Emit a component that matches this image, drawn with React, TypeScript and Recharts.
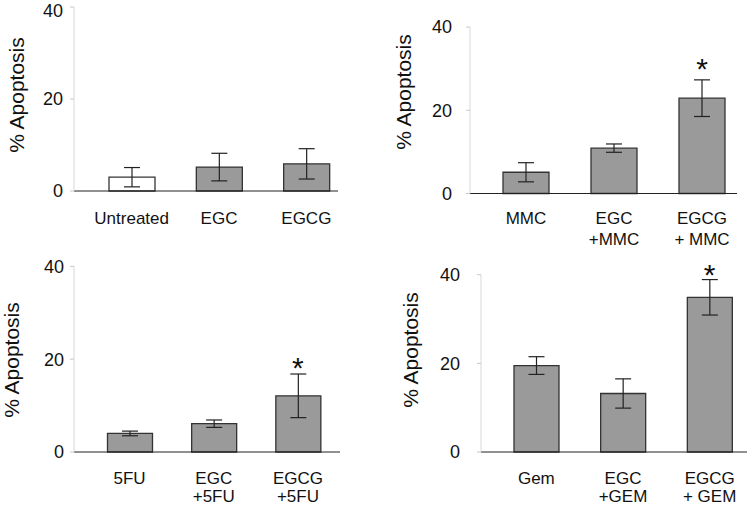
import React from "react";
import { ComposedChart, Bar, ErrorBar, Scatter, XAxis, YAxis, Cell } from "recharts";

// --- values ---
const p1Cats = ["Untreated", "EGC", "EGCG"];
const p1Means = [3.0, 5.2, 5.9];
const p1Errs = [2.1, 3.0, 3.3];
const p1Sig = [false, false, false];

const p2Cats = ["MMC", "EGC\n+MMC", "EGCG\n+ MMC"];
const p2Means = [5.1, 10.9, 22.9];
const p2Errs = [2.3, 1.0, 4.4];
const p2Sig = [false, false, true];

const p3Cats = ["5FU", "EGC\n+5FU", "EGCG\n+5FU"];
const p3Means = [4.0, 6.1, 12.1];
const p3Errs = [0.5, 0.8, 4.7];
const p3Sig = [false, false, true];

const p4Cats = ["Gem", "EGC\n+GEM", "EGCG\n+ GEM"];
const p4Means = [19.5, 13.2, 34.9];
const p4Errs = [2.0, 3.3, 4.0];
const p4Sig = [false, false, true];

const yTicks = [0, 20, 40];

const FONT = "'Liberation Sans', Arial, sans-serif";
const BAR_FILL = "#9a9a9a";
const BAR_STROKE = "#333333";

function build(cats: string[], means: number[], errs: number[], sig: boolean[]) {
  return cats.map((c, i) => ({
    cat: c,
    mean: means[i],
    err: errs[i],
    sigTop: sig[i] ? means[i] + errs[i] : null,
  }));
}

interface PanelProps {
  cats: string[];
  means: number[];
  errs: number[];
  sig: boolean[];
  left: number;
  top: number;
  axisX: number;
  plotTop: number;
  plotBottom: number;
  axisRight: number;
  padLeft: number;
  padRight: number;
  barSize: number;
  tickGap: number;
  labelX: number;
  labelY: number;
  catOffset: number;
  lineGap: number;
  starGap?: number;
  firstWhite?: boolean;
}

function Panel(p: PanelProps) {
  const W = 375;
  const H = 253;
  const data = build(p.cats, p.means, p.errs, p.sig);

  const CatTick = (props: any) => {
    const { x, y, payload } = props;
    const lines = String(payload.value).split("\n");
    return (
      <g>
        {lines.map((l, i) => (
          <text
            key={i}
            x={x}
            y={y + p.catOffset + i * p.lineGap}
            textAnchor="middle"
            fontSize={17}
            fontFamily={FONT}
            fill="#111"
          >
            {l}
          </text>
        ))}
      </g>
    );
  };

  const Star = (props: any) => {
    const { cx, cy, payload } = props;
    if (!payload || payload.sigTop == null || !isFinite(cy)) return <g />;
    return (
      <text
        x={cx}
        y={cy - (p.starGap ?? 14) + 17}
        textAnchor="middle"
        fontSize={30}
        fontFamily={FONT}
        fill="#111"
      >
        *
      </text>
    );
  };

  return (
    <div style={{ position: "absolute", left: p.left, top: p.top, width: W, height: H }}>
      <ComposedChart
        width={W}
        height={H}
        data={data}
        margin={{ top: p.plotTop, right: W - p.axisRight, bottom: 0, left: 0 }}
        style={{ overflow: "visible" }}
      >
        <XAxis
          dataKey="cat"
          type="category"
          height={H - p.plotBottom}
          padding={{ left: p.padLeft, right: p.padRight }}
          axisLine={{ stroke: "#222", strokeWidth: 1.2 }}
          tickLine={false}
          tickSize={0}
          tickMargin={0}
          tick={<CatTick />}
          interval={0}
        />
        <YAxis
          width={p.axisX}
          domain={[0, 40]}
          ticks={yTicks}
          axisLine={{ stroke: "#d8d8d8" }}
          tickLine={{ stroke: "#c8c8c8" }}
          tickSize={4}
          tickMargin={p.tickGap}
          tick={{ fontSize: 18, fontFamily: FONT, fill: "#111" }}
          label={{
            content: () => (
              <text
                x={p.labelX}
                y={p.labelY}
                transform={`rotate(-90 ${p.labelX} ${p.labelY})`}
                textAnchor="middle"
                dominantBaseline="central"
                fontSize={21}
                fontFamily={FONT}
                fill="#111"
              >
                % Apoptosis
              </text>
            ),
          }}
        />
        <Bar
          dataKey="mean"
          barSize={p.barSize}
          fill={BAR_FILL}
          stroke={BAR_STROKE}
          strokeWidth={1.3}
          isAnimationActive={false}
        >
          {data.map((_, i) => (
            <Cell key={i} fill={p.firstWhite && i === 0 ? "#ffffff" : BAR_FILL} />
          ))}
          <ErrorBar dataKey="err" width={8} stroke="#222" strokeWidth={1.2} direction="y" />
        </Bar>
        <Scatter dataKey="sigTop" shape={<Star />} isAnimationActive={false} />
      </ComposedChart>
    </div>
  );
}

export default function App() {
  return (
    <div style={{ position: "absolute", left: 0, top: 0, width: 750, height: 506, background: "#fff" }}>
      <Panel
        cats={p1Cats} means={p1Means} errs={p1Errs} sig={p1Sig} firstWhite
        left={0} top={0} axisX={74} plotTop={7} plotBottom={191} axisRight={338}
        padLeft={14} padRight={-12} barSize={46} tickGap={7}
        labelX={16} labelY={95} catOffset={33} lineGap={20}
      />
      <Panel
        cats={p2Cats} means={p2Means} errs={p2Errs} sig={p2Sig}
        left={375} top={0} axisX={95} plotTop={27} plotBottom={193.5} axisRight={362}
        padLeft={12} padRight={-9} barSize={46} tickGap={14}
        labelX={28} labelY={92} catOffset={30.5} lineGap={20.5} starGap={18}
      />
      <Panel
        cats={p3Cats} means={p3Means} errs={p3Errs} sig={p3Sig}
        left={0} top={253} axisX={74} plotTop={13.3} plotBottom={199} axisRight={340}
        padLeft={13.5} padRight={0} barSize={45} tickGap={6}
        labelX={11} labelY={107} catOffset={32} lineGap={17.5} starGap={13}
      />
      <Panel
        cats={p4Cats} means={p4Means} errs={p4Errs} sig={p4Sig}
        left={375} top={253} axisX={106} plotTop={21.7} plotBottom={199} axisRight={372}
        padLeft={12} padRight={-6} barSize={45} tickGap={17}
        labelX={35} labelY={97} catOffset={32} lineGap={17.5} starGap={12}
      />
    </div>
  );
}
